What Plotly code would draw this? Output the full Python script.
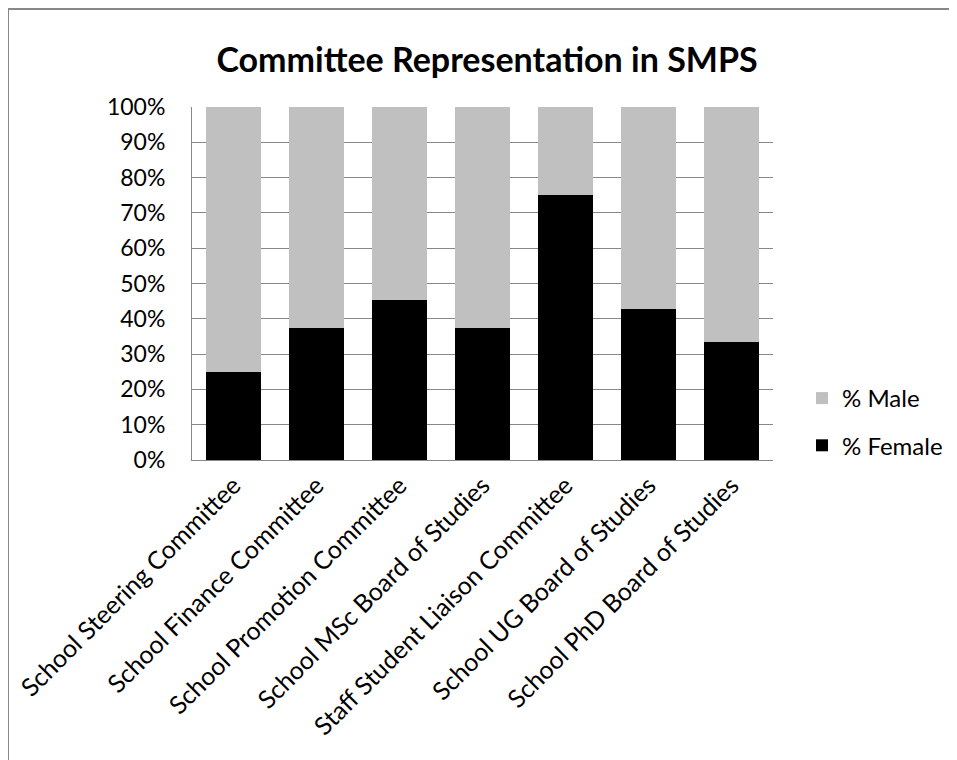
import plotly.graph_objects as go

categories = [
    "School Steering Committee",
    "School Finance Committee",
    "School Promotion Committee",
    "School MSc Board of Studies",
    "Staff Student Liaison Committee",
    "School UG Board of Studies",
    "School PhD Board of Studies",
]
female_pct = [25.0, 37.5, 45.45, 37.5, 75.0, 42.86, 33.33]
male_pct = [75.0, 62.5, 54.55, 62.5, 25.0, 57.14, 66.67]
y_ticks = [0, 10, 20, 30, 40, 50, 60, 70, 80, 90, 100]
y_tick_labels = [f"{v}%" for v in y_ticks]

OFF = 8  # page body margin
W, H = 957 - OFF, 760 - OFF
# plot area in reference-page pixels
RL, RR, RT, RB = 192, 773, 107, 460
L, R, T, B = RL - OFF, RR - OFF, RT - OFF, RB - OFF

FONT = "Lato, 'Open Sans', sans-serif"


def px(x):
    return (x - OFF - L) / (R - L)


def py(y):
    return (B - (y - OFF)) / (B - T)


fig = go.Figure()
fig.add_trace(go.Bar(name="% Female", x=categories, y=female_pct,
                     legendgroup="f", legendrank=2,
                     marker=dict(color="#000000", line=dict(width=0))))
fig.add_trace(go.Bar(name="% Male", x=categories, y=male_pct,
                     legendgroup="m", legendrank=1,
                     marker=dict(color="#c0c0c0", line=dict(width=0))))

border = dict(color="#888888", width=2)
fig.update_layout(
    width=W, height=H,
    barmode="stack",
    bargap=0.337,
    plot_bgcolor="white",
    paper_bgcolor="white",
    margin=dict(l=L, r=W - R, t=T, b=H - B, pad=0, autoexpand=False),
    title=dict(text="<b>Committee Representation in SMPS</b>",
               x=(487 - OFF) / W, xanchor="center",
               y=1 - (60 - OFF) / H, yanchor="middle",
               font=dict(family=FONT, size=34, color="#000000")),
    font=dict(family=FONT, size=24, color="#000000"),
    legend=dict(traceorder="grouped", x=px(802), xanchor="left",
                y=py(422), yanchor="middle",
                font=dict(family=FONT, size=24, color="#000000"),
                itemwidth=30, tracegroupgap=13, bgcolor="rgba(0,0,0,0)"),
    showlegend=True,
    shapes=[
        dict(type="line", xref="paper", yref="paper",
             x0=px(8), x1=px(1100), y0=py(9), y1=py(9), line=border, layer="below"),
        dict(type="line", xref="paper", yref="paper",
             x0=px(8), x1=px(8), y0=py(9), y1=py(900), line=border, layer="below"),
    ],
)
fig.update_xaxes(tickangle=-45, showgrid=False, showline=True, automargin=False,
                 linecolor="#888888", linewidth=1,
                 ticks="", tickfont=dict(family=FONT, size=25, color="#000000"))
fig.update_yaxes(range=[0, 100], tickvals=y_ticks, ticktext=y_tick_labels,
                 showgrid=True, gridcolor="#888888", gridwidth=1,
                 showline=True, linecolor="#888888", linewidth=1, automargin=False,
                 ticks="", ticklabelstandoff=21,
                 zeroline=False,
                 tickfont=dict(family=FONT, size=23, color="#000000"))

fig.write_html("out.html")
